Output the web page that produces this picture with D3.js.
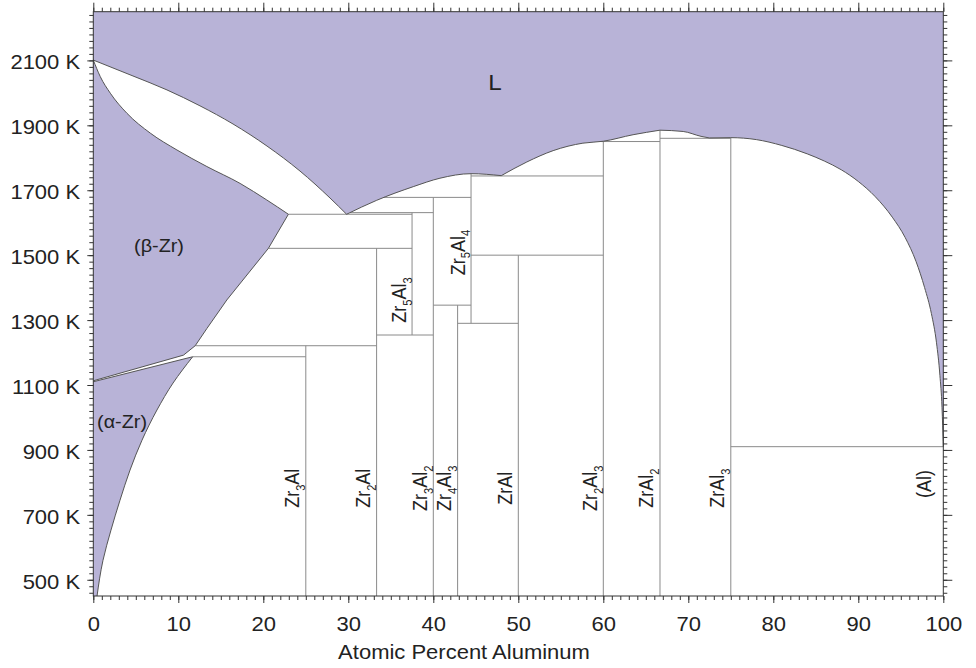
<!DOCTYPE html>
<html>
<head>
<meta charset="utf-8">
<script src="https://cdn.jsdelivr.net/npm/d3@7"></script>
<style>
  html, body { margin: 0; padding: 0; background: #fff; }
  svg { display: block; }
  text { font-family: Arial, "Liberation Sans", sans-serif; fill: #222; }
</style>
</head>
<body>
<svg id="chart" width="976" height="668"></svg>
<script>
// Zr–Al equilibrium phase diagram: composition in at.% Al, temperature in K.

const xTicks = [0, 10, 20, 30, 40, 50, 60, 70, 80, 90, 100];
const tempTicks = [500, 700, 900, 1100, 1300, 1500, 1700, 1900, 2100];
const xDomain = [0, 100];
const tempDomain = [450, 2250];

// Liquidus, split at its invariant points: [at.% Al, K]
const liqZrSide = [[0, 2101], [4.67, 2052], [8.67, 2009], [12.55, 1960], [16.44, 1904],
  [20.44, 1836], [24.32, 1759], [27.85, 1676], [29.8, 1626]];
const liqMiddle = [[29.8, 1626], [33.34, 1669], [37.64, 1711], [40.78, 1737], [44.44, 1751], [48.0, 1745]];
const liqToZrAl2 = [[48.0, 1745], [51.0, 1787], [54.1, 1822], [57.6, 1845], [60.0, 1851],
  [63.5, 1871], [66.67, 1885]];
const liqFromZrAl2 = [[66.67, 1885], [69.4, 1881], [71.5, 1866], [72.5, 1861]];
const liqAlSide = [[72.5, 1861], [75, 1862], [78, 1856], [81, 1838], [84, 1812], [86, 1790],
  [88, 1763], [90, 1727], [92, 1680], [94, 1617], [95.5, 1555], [96.8, 1480], [97.8, 1400],
  [98.6, 1320], [99.2, 1230], [99.6, 1130], [99.85, 1030], [100, 910]];

// (β-Zr) and (α-Zr) boundaries
const solidusBeta = [[0, 2101], [0.82, 2050], [2.0, 1999], [3.96, 1937], [6.70, 1876], [9.84, 1824],
  [13.36, 1773], [17.27, 1721], [20.41, 1670], [22.95, 1626]];
const solvusBeta = [[22.95, 1626], [20.6, 1521], [15.71, 1362], [13.36, 1274], [11.99, 1221], [10.61, 1192]];
const transusBeta = [[0, 1113], [10.61, 1192]];
const transusAlpha = [[0, 1110], [11.69, 1187]];
const solvusAlpha = [[11.69, 1187], [9.38, 1106], [7.49, 1023], [5.73, 930], [4.32, 838],
  [3.14, 745], [2.08, 653], [1.14, 560], [0.44, 450]];

// Invariant reactions: [K, from at.% Al, to at.% Al]
const invariants = [
  [1626, 22.95, 37.5], [1631, 30.2, 40], [1521, 20.6, 37.5], [1221, 11.99, 33.33],
  [1187, 11.69, 25], [1254, 33.33, 40], [1678, 34.2, 44.44], [1346, 40, 44.44],
  [1290, 42.86, 50], [1744, 44.44, 60], [1500, 44.44, 60], [1850, 59.7, 66.67],
  [1860, 66.67, 75], [910, 75, 100]
];

// Intermetallic compounds: name, composition, stability range (K)
const compoundNames = ["Zr3Al", "Zr2Al", "Zr5Al3", "Zr3Al2", "Zr4Al3", "Zr5Al4", "ZrAl", "Zr2Al3", "ZrAl2", "ZrAl3"];
const compoundAt = [25, 33.33, 37.5, 40, 42.86, 44.44, 50, 60, 66.67, 75];
const compoundFrom = [450, 450, 1254, 450, 450, 1290, 450, 450, 450, 450];
const compoundTo = [1221, 1521, 1631, 1678, 1346, 1751, 1500, 1850, 1885, 1861];
const compoundLabelT = [782, 782, 1362, 782, 782, 1508, 782, 782, 782, 782];

// Single-phase field names: [text, at.% Al, K, font size]
const fieldLabels = [["L", 47.26, 2034, 22], ["(β-Zr)", 7.73, 1531, 18], ["(α-Zr)", 3.38, 989, 18]];
const alLabel = ["(Al)", 99.3, 795];

const PURPLE = "#b8b3d7";
const svg = d3.select("#chart");
svg.append("rect").attr("width", 976).attr("height", 668).attr("fill", "#fff");

const x = d3.scaleLinear().domain(xDomain).range([93.3, 943.3]);
const y = d3.scaleLinear().domain(tempDomain).range([596, 11.7]);

const smoothX = d3.line().x(d => x(d[0])).y(d => y(d[1])).curve(d3.curveMonotoneX);
const smoothY = d3.line().x(d => x(d[0])).y(d => y(d[1])).curve(d3.curveMonotoneY);
const straight = d3.line().x(d => x(d[0])).y(d => y(d[1]));
const chain = parts => parts.map((p, i) => (i ? p.replace(/^M/, "L") : p)).join("");

const liquidus = chain([smoothX(liqZrSide), smoothX(liqMiddle), smoothX(liqToZrAl2),
  smoothX(liqFromZrAl2), smoothX(liqAlSide)]);

// filled single-phase fields
const fields = svg.append("g");
fields.append("path")
  .attr("d", liquidus + `L${x(100)},${y(2250)}L${x(0)},${y(2250)}Z`)
  .attr("fill", PURPLE);
fields.append("path")
  .attr("d", chain([smoothX(solidusBeta), straight(solvusBeta), straight(transusBeta.slice().reverse())]) + "Z")
  .attr("fill", PURPLE);
fields.append("path")
  .attr("d", chain([straight(transusAlpha), smoothY(solvusAlpha)]) + `L${x(0)},${y(450)}Z`)
  .attr("fill", PURPLE);

// invariant horizontals and compound verticals
const thin = svg.append("g").attr("stroke", "#8a8a8a").attr("stroke-width", 1).attr("fill", "none");
thin.selectAll("line.inv").data(invariants).join("line").attr("class", "inv")
  .attr("x1", d => x(d[1])).attr("x2", d => x(d[2]))
  .attr("y1", d => y(d[0])).attr("y2", d => y(d[0]));
thin.selectAll("line.cmp").data(compoundAt).join("line").attr("class", "cmp")
  .attr("x1", d => x(d)).attr("x2", d => x(d))
  .attr("y1", (d, i) => y(compoundFrom[i])).attr("y2", (d, i) => y(compoundTo[i]));

// phase boundaries
const bounds = svg.append("g").attr("stroke", "#555").attr("stroke-width", 1).attr("fill", "none");
bounds.append("path").attr("d", liquidus);
bounds.append("path").attr("d", smoothX(solidusBeta));
bounds.append("path").attr("d", straight(solvusBeta));
bounds.append("path").attr("d", straight(transusBeta));
bounds.append("path").attr("d", straight(transusAlpha));
bounds.append("path").attr("d", smoothY(solvusAlpha));

// axes
const xMinor = d3.range(0, 101, 1);
const tMinor = d3.range(460, 2250, 20);
function styleAxis(g) {
  g.select(".domain").remove();
  g.selectAll(".tick line").attr("stroke", "#333");
  g.selectAll("text").attr("font-size", 20).attr("fill", "#222")
    .attr("font-family", "Arial, 'Liberation Sans', sans-serif");
}
const axBottom = svg.append("g").attr("transform", `translate(0,${y(450)})`);
axBottom.append("g").call(d3.axisBottom(x).tickValues(xMinor).tickSize(4).tickFormat("")).call(styleAxis);
axBottom.append("g").call(d3.axisBottom(x).tickValues(xTicks).tickSize(7).tickPadding(14).tickFormat(d => d))
  .call(styleAxis)
  .selectAll("text").attr("transform", "scale(1.1,1)");
const axTop = svg.append("g").attr("transform", `translate(0,${y(2250)})`);
axTop.append("g").call(d3.axisTop(x).tickValues(xMinor).tickSize(4).tickFormat("")).call(styleAxis);
axTop.append("g").call(d3.axisTop(x).tickValues(xTicks).tickSize(9).tickFormat("")).call(styleAxis);
const axLeft = svg.append("g").attr("transform", `translate(${x(0)},0)`);
axLeft.append("g").call(d3.axisLeft(y).tickValues(tMinor).tickSize(4).tickFormat("")).call(styleAxis);
axLeft.append("g").call(d3.axisLeft(y).tickValues(tempTicks).tickSize(6).tickPadding(6).tickFormat(d => d + " K"))
  .call(styleAxis)
  .selectAll("text").attr("dy", "0.42em").attr("transform", "scale(1.1,1)");
const axRight = svg.append("g").attr("transform", `translate(${x(100)},0)`);
axRight.append("g").call(d3.axisRight(y).tickValues(tMinor).tickSize(4).tickFormat("")).call(styleAxis);
axRight.append("g").call(d3.axisRight(y).tickValues(tempTicks).tickSize(9).tickFormat("")).call(styleAxis);

svg.append("rect")
  .attr("x", x(0)).attr("y", y(2250))
  .attr("width", x(100) - x(0)).attr("height", y(450) - y(2250))
  .attr("fill", "none").attr("stroke", "#333").attr("stroke-width", 1);

// text with numeric subscripts
function addLabel(px, py, str, rotated, anchor) {
  const size = 18;
  const t = svg.append("text")
    .attr("transform", `translate(${px},${py}) scale(1.1,1)` + (rotated ? " rotate(-90)" : ""))
    .attr("text-anchor", anchor || "middle")
    .attr("font-size", size);
  const parts = str.split(/(\d+)/).filter(s => s.length);
  let shifted = false;
  parts.forEach(p => {
    const isSub = /^\d+$/.test(p);
    const ts = t.append("tspan").text(p);
    if (isSub) { ts.attr("font-size", size * 0.62).attr("dy", size * 0.3); shifted = true; }
    else if (shifted) { ts.attr("dy", -size * 0.3); shifted = false; }
  });
  return t;
}

compoundNames.forEach((name, i) => {
  addLabel(x(compoundAt[i]) - 6.5, y(compoundLabelT[i]), name, true);
});
addLabel(x(alLabel[1]) - 6, y(alLabel[2]), alLabel[0], true);
fieldLabels.forEach(d => {
  svg.append("text")
    .attr("transform", `translate(${x(d[1])},${y(d[2]) + d[3] * 0.36}) scale(1.1,1)`)
    .attr("text-anchor", "middle").attr("font-size", d[3]).text(d[0]);
});

svg.append("text")
  .attr("transform", "translate(464,659) scale(1.1,1)")
  .attr("text-anchor", "middle").attr("font-size", 20)
  .text("Atomic Percent Aluminum");
</script>
</body>
</html>
